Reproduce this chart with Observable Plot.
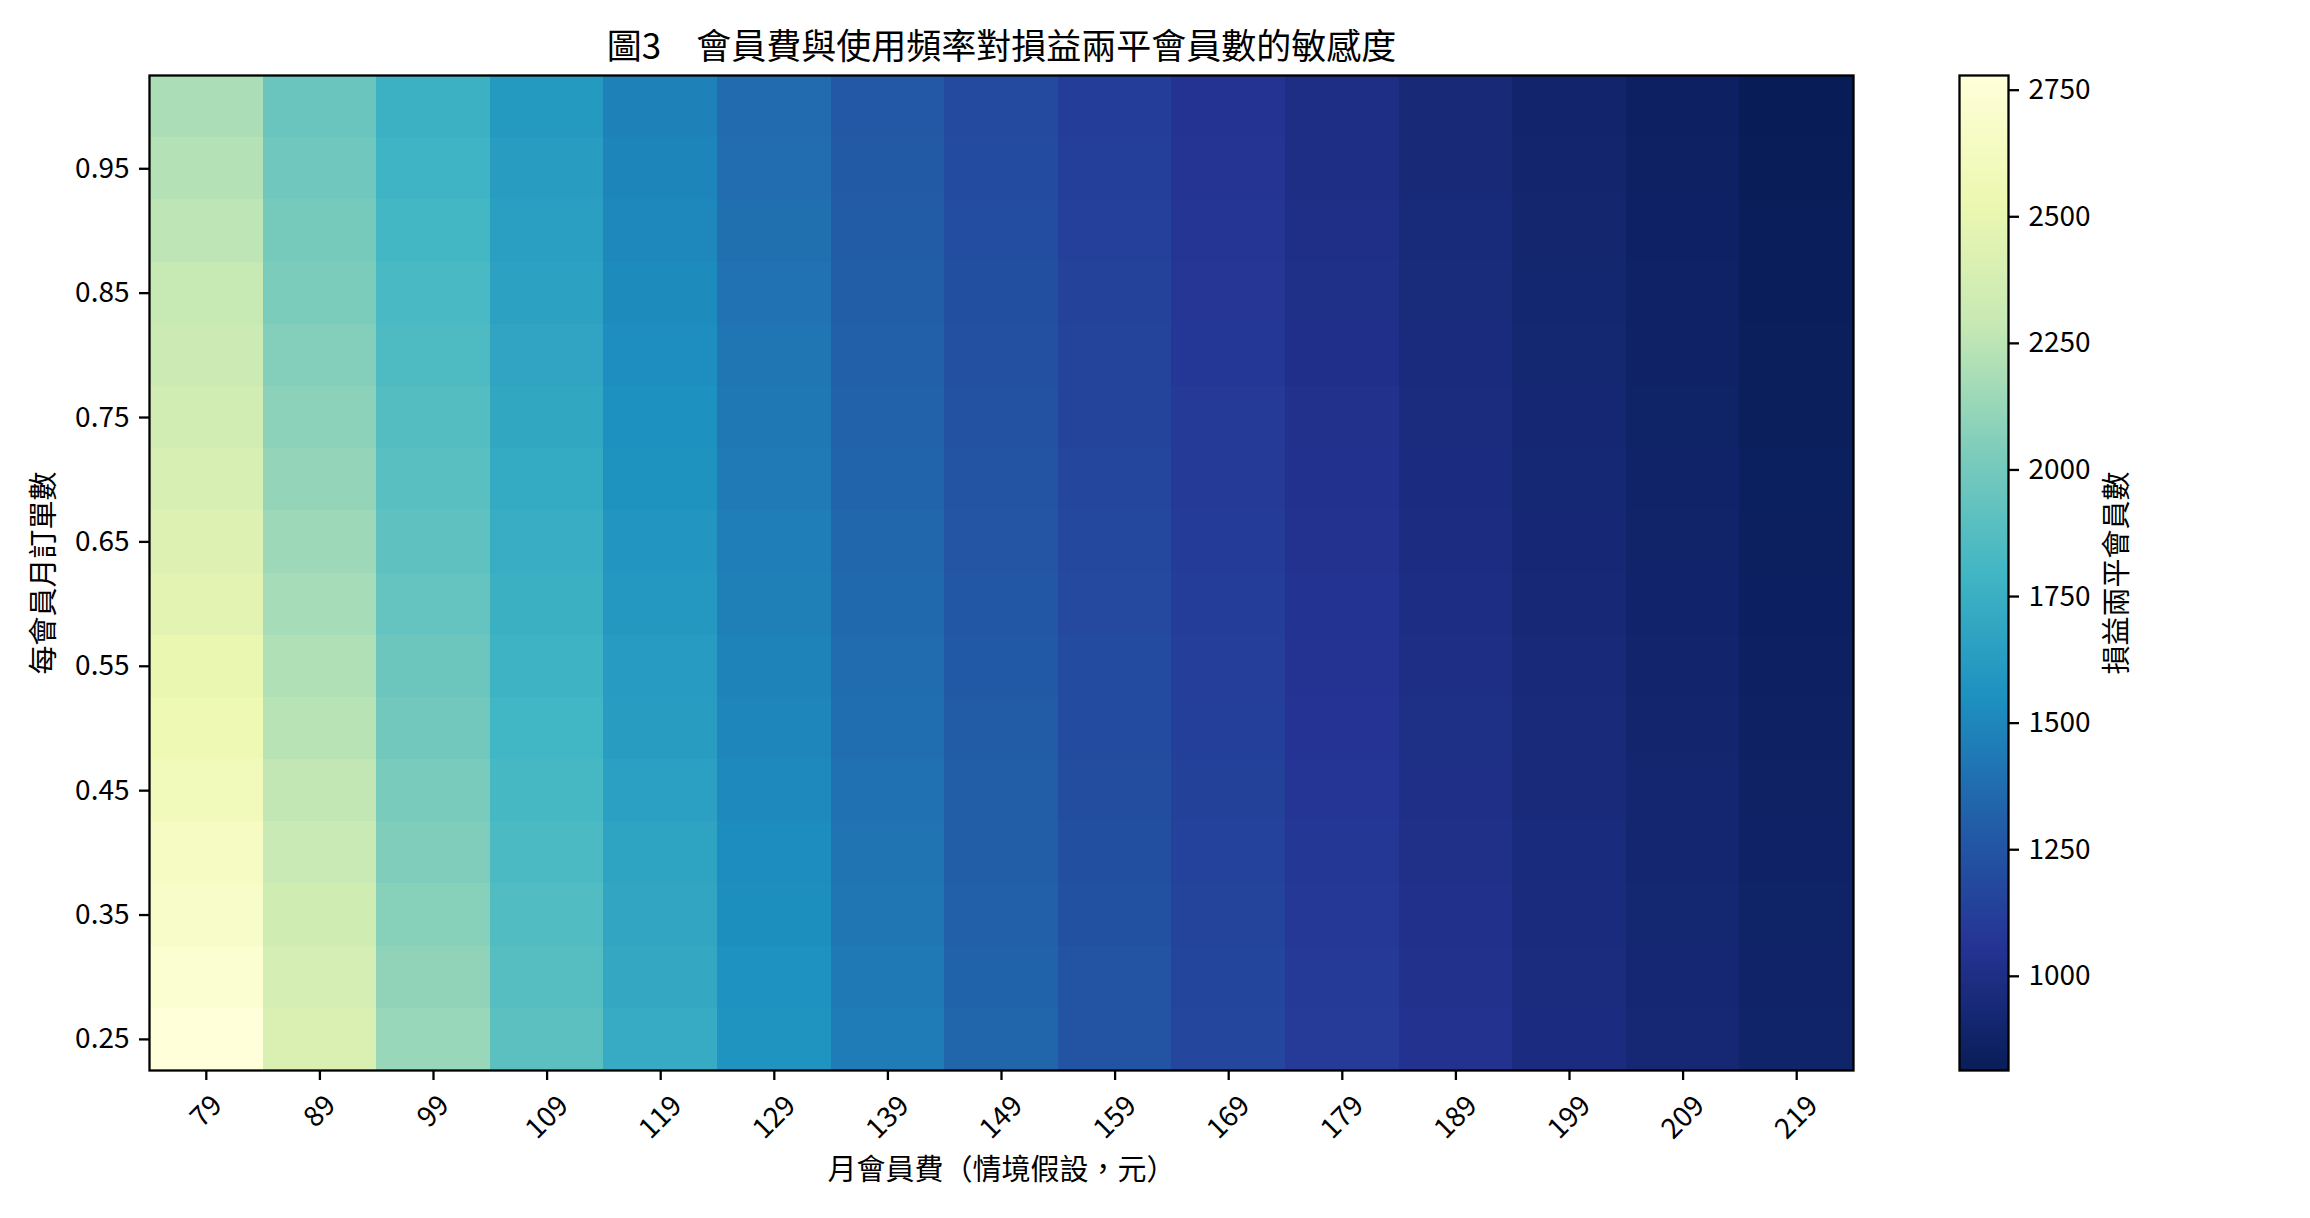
<!DOCTYPE html>
<html>
<head>
<meta charset="utf-8">
<script src="https://cdn.jsdelivr.net/npm/d3@7"></script>
<script src="https://cdn.jsdelivr.net/npm/@observablehq/plot@0.6"></script>
<style>
html, body { margin: 0; padding: 0; background: #fff; }
#wrap { position: relative; width: 2310px; height: 1218px; overflow: hidden; background: #fff; }
#wrap svg { position: absolute; top: 0; }
</style>
</head>
<body>
<div id="wrap"></div>
<script>
// ---- Data ----
const fees = [79, 89, 99, 109, 119, 129, 139, 149, 159, 169, 179, 189, 199, 209, 219];
const freqs = [0.25, 0.30, 0.35, 0.40, 0.45, 0.50, 0.55, 0.60, 0.65, 0.70, 0.75, 0.80, 0.85, 0.90, 0.95, 1.00];
const yTickValues = [0.25, 0.35, 0.45, 0.55, 0.65, 0.75, 0.85, 0.95];
const colorbarTicks = [1000, 1250, 1500, 1750, 2000, 2250, 2500, 2750];

// break-even members per fee column, freq 0.25 -> 1.00
const be79  = [2779, 2730, 2683, 2637, 2593, 2551, 2510, 2470, 2431, 2394, 2357, 2322, 2288, 2255, 2222, 2191];
const be89  = [2410, 2373, 2337, 2303, 2269, 2236, 2205, 2174, 2144, 2115, 2086, 2059, 2032, 2005, 1980, 1955];
const be99  = [2127, 2099, 2071, 2044, 2017, 1991, 1966, 1941, 1917, 1894, 1871, 1849, 1827, 1806, 1785, 1765];
const be109 = [1904, 1881, 1859, 1837, 1815, 1794, 1774, 1754, 1734, 1715, 1696, 1678, 1660, 1642, 1625, 1608];
const be119 = [1723, 1705, 1686, 1668, 1650, 1633, 1616, 1599, 1583, 1567, 1551, 1536, 1521, 1506, 1492, 1478];
const be129 = [1574, 1558, 1543, 1528, 1513, 1498, 1484, 1470, 1456, 1442, 1429, 1416, 1403, 1391, 1378, 1366];
const be139 = [1448, 1435, 1422, 1409, 1396, 1384, 1372, 1360, 1348, 1336, 1325, 1314, 1303, 1292, 1281, 1271];
const be149 = [1341, 1330, 1319, 1307, 1297, 1286, 1275, 1265, 1255, 1245, 1235, 1225, 1215, 1206, 1197, 1187];
const be159 = [1249, 1239, 1229, 1220, 1210, 1201, 1192, 1182, 1174, 1165, 1156, 1148, 1139, 1131, 1123, 1115];
const be169 = [1169, 1160, 1151, 1143, 1134, 1126, 1118, 1110, 1102, 1094, 1087, 1079, 1072, 1064, 1057, 1050];
const be179 = [1098, 1090, 1083, 1075, 1068, 1060, 1053, 1046, 1039, 1032, 1025, 1019, 1012, 1005, 999, 993];
const be189 = [1035, 1028, 1022, 1015, 1008, 1002, 995, 989, 983, 977, 971, 965, 959, 953, 947, 941];
const be199 = [979, 973, 967, 961, 955, 949, 944, 938, 932, 927, 921, 916, 911, 905, 900, 895];
const be209 = [929, 924, 918, 913, 908, 902, 897, 892, 887, 882, 877, 872, 867, 862, 857, 853];
const be219 = [884, 879, 874, 869, 864, 860, 855, 850, 845, 841, 836, 832, 827, 823, 819, 814];
const columns = [be79, be89, be99, be109, be119, be129, be139, be149, be159, be169, be179, be189, be199, be209, be219];

const titleText = "圖3　會員費與使用頻率對損益兩平會員數的敏感度";
const xLabelText = "月會員費（情境假設，元）";
const yLabelText = "每會員月訂單數";
const cLabelText = "損益兩平會員數";

// YlGnBu (matplotlib, reversed: dark = low)
const ylgnbuDarkToLight = ["#081d58", "#253494", "#225ea8", "#1d91c0", "#41b6c4", "#7fcdbb", "#c7e9b4", "#edf8b1", "#ffffd9"];

// ---- Build ----
const table = fees.flatMap((fee, i) => freqs.map((freq, j) => ({fee, freq, value: columns[i][j]})));
const vmin = d3.min(table, d => d.value);
const vmax = d3.max(table, d => d.value);
const colorScale = () => ({type: "linear", domain: [vmin, vmax], interpolate: d3.piecewise(d3.interpolateRgb, ylgnbuDarkToLight)});

const FONT = '"Noto Sans CJK TC", "Noto Sans CJK SC", "Noto Sans", sans-serif';
const SW = 2.3;

const main = Plot.plot({
  width: 2310, height: 1218,
  marginLeft: 149, marginRight: 457, marginTop: 75, marginBottom: 148,
  style: {fontFamily: FONT, fontSize: "28px", color: "black", background: "transparent", overflow: "visible"},
  x: {type: "band", domain: fees, padding: 0, round: false, label: null, axis: null},
  y: {type: "band", domain: [...freqs].reverse(), padding: 0, round: false, label: null, axis: null},
  color: colorScale(),
  marks: [
    Plot.cell(table, {x: "fee", y: "freq", fill: "value", inset: 0, shapeRendering: "crispEdges"}),
    Plot.frame({stroke: "black", strokeWidth: SW}),
    Plot.axisY({ticks: yTickValues, tickFormat: d3.format(".2f"), tickSize: 10, tickPadding: 10, strokeWidth: SW, fontSize: 28, label: null}),
    Plot.axisX({ticks: fees.filter(f => f < 100), tickFormat: d => String(d), tickRotate: -45, textAnchor: "middle", lineAnchor: "middle", tickSize: 10, tickPadding: 31, strokeWidth: SW, fontSize: 28, label: null}),
    Plot.axisX({ticks: fees.filter(f => f >= 100), tickFormat: d => String(d), tickRotate: -45, textAnchor: "middle", lineAnchor: "middle", tickSize: 10, tickPadding: 37, strokeWidth: SW, fontSize: 28, label: null}),
    Plot.text([titleText], {text: d => d, frameAnchor: "top", textAnchor: "middle", lineAnchor: "middle", dy: -28, fontSize: 35, fill: "black"}),
    Plot.text([xLabelText], {text: d => d, frameAnchor: "bottom", textAnchor: "middle", lineAnchor: "middle", dy: 100, fontSize: 29, fill: "black"}),
    Plot.text([yLabelText], {text: d => d, frameAnchor: "left", textAnchor: "middle", lineAnchor: "middle", dx: -105, rotate: -90, fontSize: 29, fill: "black"})
  ]
});
main.style.left = "0px";

const cbar = Plot.plot({
  width: 49 + 351, height: 1218,
  marginLeft: 0, marginRight: 351, marginTop: 75, marginBottom: 148,
  style: {fontFamily: FONT, fontSize: "28px", color: "black", background: "transparent", overflow: "visible"},
  x: {domain: [0, 1], axis: null},
  y: {domain: [vmin, vmax], axis: null},
  color: colorScale(),
  marks: [
    Plot.raster({fill: (x, y) => y, x1: 0, x2: 1, y1: vmin, y2: vmax, pixelSize: 1, imageRendering: "auto"}),
    Plot.frame({stroke: "black", strokeWidth: SW}),
    Plot.axisY({anchor: "right", ticks: colorbarTicks, tickFormat: d => String(d), tickSize: 10, tickPadding: 10, strokeWidth: SW, fontSize: 28, label: null}),
    Plot.text([cLabelText], {text: d => d, frameAnchor: "right", textAnchor: "middle", lineAnchor: "middle", dx: 109, rotate: -90, fontSize: 29, fill: "black"})
  ]
});
cbar.style.left = "1959px";

const wrap = document.getElementById("wrap");
wrap.appendChild(main);
wrap.appendChild(cbar);
</script>
</body>
</html>
